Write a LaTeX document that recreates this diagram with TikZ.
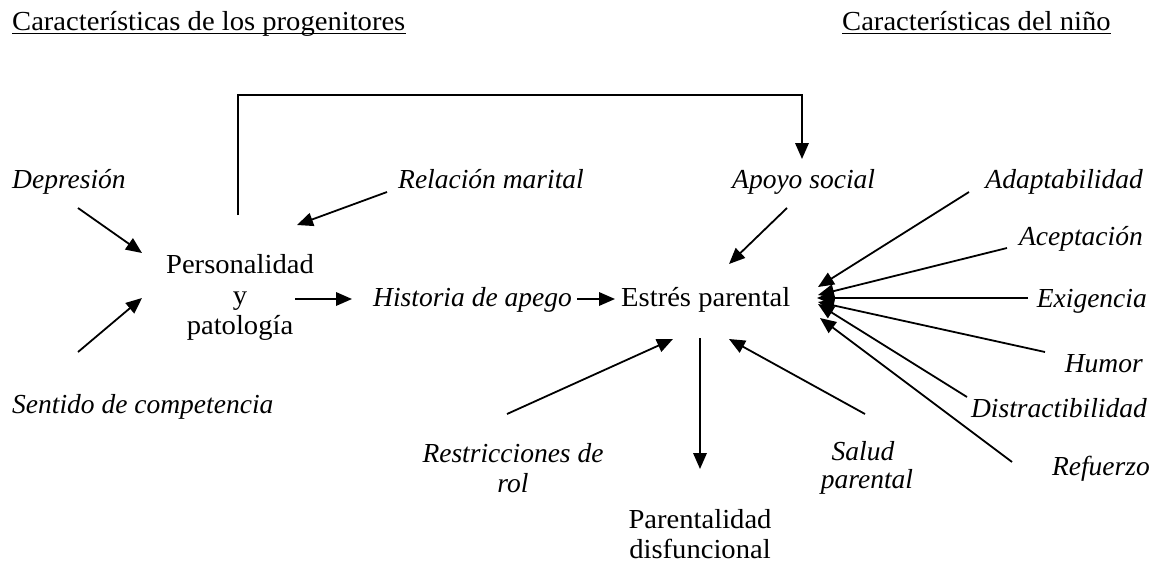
\documentclass[tikz,border=0pt]{standalone}
\usepackage{fontspec}
\setmainfont{Liberation Serif}[FakeStretch=1.04]
\newfontfamily\itfam{Liberation Serif}
\usetikzlibrary{arrows.meta}
\begin{document}
\begin{tikzpicture}[x=1pt,y=-1pt,
  every node/.style={inner sep=0pt,font=\fontsize{27.5}{30}\selectfont},
  lbl/.style={font=\fontsize{27.5}{30}\selectfont\itfam\itshape},
  arr/.style={line width=1.8pt,-{Triangle[length=16pt,width=13.5pt]}},
  plain/.style={line width=1.8pt}]
\useasboundingbox (0,0) rectangle (1162,563);
% headers
\node[anchor=base west] (hl) at (12,30) {Características de los progenitores};
\node[anchor=base west] (hr) at (842,30) {Características del niño};
\draw[line width=1.3pt] ([yshift=-3.5pt]hl.base west) -- ([yshift=-3.5pt]hl.base east);
\draw[line width=1.3pt] ([yshift=-3.5pt]hr.base west) -- ([yshift=-3.5pt]hr.base east);
% parent side
\node[lbl,anchor=base west] (dep) at (12,188) {Depresión};
\node[lbl,anchor=base west] (sen) at (12,413) {Sentido de competencia};
\node[lbl,anchor=base west] (rel) at (398,188) {Relación marital};
\node[anchor=base] (per1) at (240,273) {Personalidad};
\node[anchor=base] (per2) at (240,304) {y};
\node[anchor=base] (per3) at (240,334) {patología};
\node[lbl,anchor=base west] (his) at (373,306) {Historia de apego};
\node[anchor=base west] (est) at (621,306) {Estrés parental};
\node[lbl,anchor=base west] (apo) at (732,188) {Apoyo social};
% child side
\node[lbl,anchor=base east] (ada) at (1143,188) {Adaptabilidad};
\node[lbl,anchor=base east] (ace) at (1143,245) {Aceptación};
\node[lbl,anchor=base east] (exi) at (1147,307) {Exigencia};
\node[lbl,anchor=base east] (hum) at (1143,372) {Humor};
\node[lbl,anchor=base east] (dis) at (1147,417) {Distractibilidad};
\node[lbl,anchor=base east] (ref) at (1150,475) {Refuerzo};
% bottom
\node[lbl,anchor=base] (res1) at (513,462) {Restricciones de};
\node[lbl,anchor=base] (res2) at (513,492) {rol};
\node[lbl,anchor=base] (sal1) at (863,460) {Salud};
\node[lbl,anchor=base] (sal2) at (867,488) {parental};
\node[anchor=base] (par1) at (700,528) {Parentalidad};
\node[anchor=base] (par2) at (700,558) {disfuncional};
% connector end points
\coordinate (depS) at (78,208);   \coordinate (depT) at (142,253);
\coordinate (senS) at (78,352);   \coordinate (senT) at (142,298);
\coordinate (relS) at (387,192);  \coordinate (relT) at (297,225);
\coordinate (perS) at (295,299);  \coordinate (hisT) at (352,299);
\coordinate (hisS) at (577,299);  \coordinate (estT) at (615,299);
\coordinate (apoS) at (787,208);  \coordinate (apoT) at (729,264);
\coordinate (adaS) at (969,192);  \coordinate (adaT) at (818,287);
\coordinate (aceS) at (1007,248); \coordinate (aceT) at (818,295);
\coordinate (exiS) at (1028,298); \coordinate (exiT) at (817,298);
\coordinate (humS) at (1045,352); \coordinate (humT) at (818,302);
\coordinate (disS) at (967,397);  \coordinate (disT) at (818,304);
\coordinate (refS) at (1012,462); \coordinate (refT) at (820,318);
\coordinate (resS) at (507,414);  \coordinate (resT) at (673,339);
\coordinate (salS) at (865,414);  \coordinate (salT) at (729,339);
\coordinate (estS) at (700,338);  \coordinate (parT) at (700,469);
\coordinate (topS) at (238,215);  \coordinate (topA) at (238,95);
\coordinate (topB) at (802,95);   \coordinate (apoT2) at (802,159);
% connectors
\draw[arr] (depS) -- (depT);
\draw[arr] (senS) -- (senT);
\draw[arr] (relS) -- (relT);
\draw[arr] (perS) -- (hisT);
\draw[arr] (hisS) -- (estT);
\draw[arr] (apoS) -- (apoT);
\draw[arr] (adaS) -- (adaT);
\draw[arr] (aceS) -- (aceT);
\draw[arr] (exiS) -- (exiT);
\draw[arr] (humS) -- (humT);
\draw[arr] (disS) -- (disT);
\draw[arr] (refS) -- (refT);
\draw[arr] (resS) -- (resT);
\draw[arr] (salS) -- (salT);
\draw[arr] (estS) -- (parT);
\draw[arr] (topS) -- (topA) -- (topB) -- (apoT2);
\end{tikzpicture}
\end{document}
